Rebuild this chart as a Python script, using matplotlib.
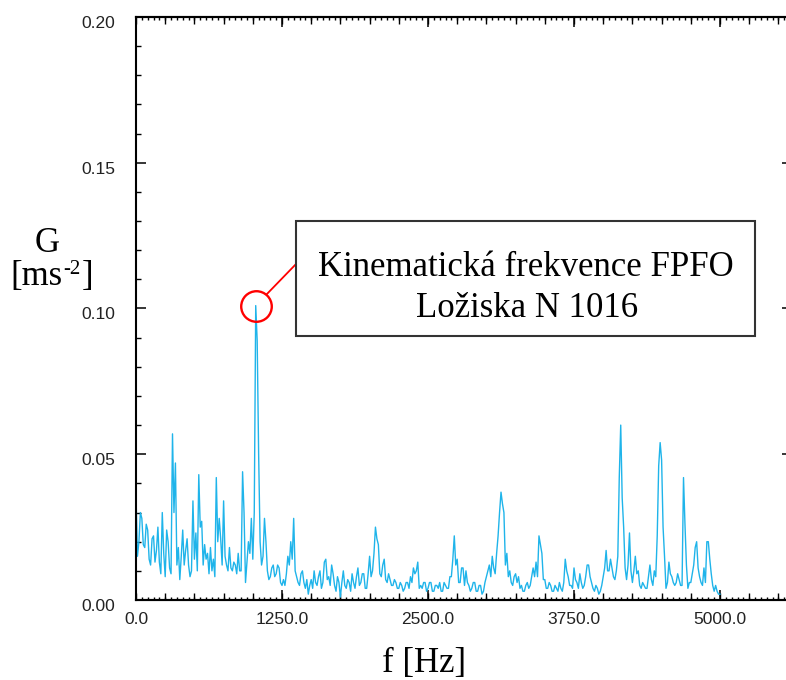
import numpy as np
import matplotlib
matplotlib.use("Agg")
import matplotlib.pyplot as plt
import matplotlib.transforms as mtransforms
from matplotlib.patches import Rectangle
from matplotlib.ticker import MultipleLocator, FormatStrFormatter, NullFormatter

# ---- spectrum data: acceleration G [m/s^2], one bin every 12.5 Hz from 0 Hz ----
df = 12.5
g = [
    0.036, 0.015, 0.020, 0.030, 0.028, 0.019, 0.018, 0.026, 0.024, 0.014,
    0.012, 0.021, 0.022, 0.013, 0.017, 0.025, 0.013, 0.009, 0.030, 0.016,
    0.008, 0.024, 0.020, 0.011, 0.009, 0.057, 0.030, 0.047, 0.012, 0.018,
    0.007, 0.015, 0.024, 0.012, 0.017, 0.021, 0.012, 0.008, 0.010, 0.034,
    0.014, 0.023, 0.010, 0.043, 0.025, 0.027, 0.012, 0.019, 0.014, 0.016,
    0.009, 0.018, 0.010, 0.014, 0.008, 0.042, 0.020, 0.028, 0.021, 0.012,
    0.034, 0.015, 0.012, 0.010, 0.018, 0.011, 0.010, 0.013, 0.012, 0.009,
    0.016, 0.010, 0.010, 0.044, 0.030, 0.006, 0.013, 0.020, 0.016, 0.028,
    0.014, 0.030, 0.101, 0.089, 0.050, 0.020, 0.012, 0.015, 0.028, 0.020,
    0.010, 0.007, 0.008, 0.011, 0.012, 0.008, 0.009, 0.012, 0.011, 0.006,
    0.005, 0.007, 0.005, 0.009, 0.015, 0.012, 0.020, 0.014, 0.028, 0.010,
    0.008, 0.006, 0.005, 0.009, 0.010, 0.006, 0.004, 0.007, 0.002, 0.005,
    0.007, 0.004, 0.010, 0.006, 0.005, 0.008, 0.010, 0.004, 0.006, 0.013,
    0.014, 0.007, 0.008, 0.005, 0.012, 0.009, 0.005, 0.003, 0.008, 0.006,
    0.001, 0.006, 0.010, 0.005, 0.004, 0.007, 0.006, 0.003, 0.009, 0.006,
    0.004, 0.008, 0.011, 0.005, 0.006, 0.009, 0.009, 0.004, 0.004, 0.009,
    0.015, 0.008, 0.010, 0.016, 0.025, 0.021, 0.019, 0.009, 0.008, 0.012,
    0.014, 0.007, 0.006, 0.009, 0.007, 0.005, 0.005, 0.007, 0.006, 0.004,
    0.004, 0.006, 0.005, 0.003, 0.004, 0.006, 0.006, 0.004, 0.008, 0.006,
    0.011, 0.009, 0.010, 0.013, 0.004, 0.005, 0.004, 0.006, 0.006, 0.003,
    0.004, 0.006, 0.006, 0.003, 0.003, 0.005, 0.005, 0.004, 0.006, 0.003,
    0.003, 0.006, 0.005, 0.004, 0.004, 0.008, 0.008, 0.014, 0.022, 0.012,
    0.014, 0.006, 0.006, 0.011, 0.011, 0.005, 0.010, 0.006, 0.005, 0.003,
    0.004, 0.006, 0.006, 0.003, 0.003, 0.005, 0.005, 0.002, 0.003, 0.006,
    0.008, 0.010, 0.012, 0.008, 0.015, 0.011, 0.009, 0.016, 0.022, 0.030,
    0.037, 0.033, 0.030, 0.012, 0.016, 0.008, 0.010, 0.006, 0.005, 0.008,
    0.009, 0.006, 0.008, 0.004, 0.005, 0.003, 0.003, 0.005, 0.006, 0.004,
    0.005, 0.008, 0.011, 0.008, 0.013, 0.008, 0.022, 0.019, 0.016, 0.007,
    0.007, 0.004, 0.004, 0.006, 0.005, 0.003, 0.003, 0.005, 0.004, 0.003,
    0.006, 0.004, 0.003, 0.006, 0.014, 0.010, 0.008, 0.005, 0.005, 0.004,
    0.011, 0.007, 0.006, 0.004, 0.009, 0.006, 0.004, 0.005, 0.008, 0.012,
    0.012, 0.008, 0.006, 0.004, 0.003, 0.005, 0.004, 0.002, 0.003, 0.005,
    0.008, 0.011, 0.017, 0.010, 0.010, 0.014, 0.011, 0.008, 0.007, 0.010,
    0.015, 0.042, 0.060, 0.035, 0.025, 0.011, 0.007, 0.012, 0.023, 0.010,
    0.006, 0.010, 0.015, 0.009, 0.010, 0.005, 0.004, 0.006, 0.005, 0.004,
    0.004, 0.008, 0.012, 0.007, 0.005, 0.010, 0.008, 0.022, 0.046, 0.054,
    0.048, 0.025, 0.015, 0.004, 0.006, 0.013, 0.009, 0.008, 0.006, 0.005,
    0.006, 0.009, 0.007, 0.005, 0.005, 0.042, 0.026, 0.012, 0.004, 0.006,
    0.006, 0.009, 0.012, 0.018, 0.020, 0.011, 0.008, 0.006, 0.005, 0.011,
    0.006, 0.020, 0.020, 0.014, 0.009, 0.005, 0.003, 0.005, 0.003, 0.002,
    0.002,
]
freq = np.arange(len(g)) * df

note_lines = ["Kinematická frekvence FPFO", "Ložiska N 1016"]
x_label = "f [Hz]"
y_label = ["G", "[ms", "-2", "]"]

W, H = 786, 680
serif = "Liberation Serif"
sans = "Liberation Sans"
line_col = "#1fb4ea"

fig = plt.figure(figsize=(W / 100, H / 100), dpi=100)
ax = fig.add_axes([136 / W, 80 / H, 1 - 136 / W, 583 / H])

ax.plot(freq, g, color=line_col, lw=1.0)
ax.set_xlim(0, 5565)
ax.set_ylim(0, 0.2)

for s in ["left", "top", "bottom"]:
    ax.spines[s].set_linewidth(1.5)
ax.spines["right"].set_visible(False)

ax.xaxis.set_major_locator(MultipleLocator(1250))
ax.xaxis.set_minor_locator(MultipleLocator(50))
ax.xaxis.set_major_formatter(FormatStrFormatter("%.1f"))
ax.yaxis.set_major_locator(MultipleLocator(0.05))
ax.yaxis.set_minor_locator(MultipleLocator(0.01))
ax.yaxis.set_major_formatter(FormatStrFormatter("%.2f"))

ax.tick_params(axis="x", which="major", direction="in", length=7, width=1.1,
               top=True, pad=9, labelsize=12.5, labelcolor="#222")
ax.tick_params(axis="x", which="minor", direction="in", length=2.4, width=1.0, top=True)
ax.tick_params(axis="y", which="major", direction="in", length=7, width=1.1,
               right=True, pad=15, labelsize=12.5, labelcolor="#222")
ax.tick_params(axis="y", which="minor", direction="in", length=3.5, width=1.0)
for lab in ax.get_xticklabels() + ax.get_yticklabels():
    lab.set_fontfamily(sans)

# right side: only short major ticks, no spine
for t in ax.yaxis.get_major_ticks():
    t.tick2line.set_markersize(3)

# y tick labels sit a little below their ticks
shift = mtransforms.ScaledTranslation(0, -5 / 100, fig.dpi_scale_trans)
for lab in ax.get_yticklabels():
    lab.set_transform(lab.get_transform() + shift)

# medium ticks every 250 Hz on bottom and top
for side in ["bottom", "top"]:
    sec = ax.secondary_xaxis(side)
    sec.xaxis.set_major_locator(MultipleLocator(250))
    sec.xaxis.set_major_formatter(NullFormatter())
    sec.tick_params(axis="x", which="major", direction="in", length=4.8, width=1.0)
    sec.xaxis.set_minor_locator(MultipleLocator(250))
    sec.tick_params(axis="x", which="minor", length=0)
    sec.spines[side].set_linewidth(1.5)

# peak marker and its note
i_pk = int(np.argmax(g))
ax.plot(freq[i_pk], g[i_pk], "o", ms=22, mfc="none", mec="red", mew=1.7, zorder=5)
ax.annotate("", xy=(freq[i_pk], g[i_pk]), xytext=(297 / W, 1 - 263 / H),
            textcoords="figure fraction",
            arrowprops=dict(arrowstyle="-", color="red", lw=1.3, shrinkA=0, shrinkB=11))

fig.add_artist(Rectangle((296 / W, 1 - 336 / H), 459 / W, 115 / H, transform=fig.transFigure,
                         facecolor="white", edgecolor="#333", lw=1.5))
fig.text(526 / W, 1 - 276 / H, note_lines[0], ha="center", va="baseline",
         fontsize=25, family=serif)
fig.text(527 / W, 1 - 317 / H, note_lines[1], ha="center", va="baseline",
         fontsize=25, family=serif)

# axis titles
fig.text(424 / W, 1 - 672 / H, x_label, ha="center", va="baseline", fontsize=25, family=serif)
fig.text(47 / W, 1 - 252 / H, y_label[0], ha="center", va="baseline", fontsize=25, family=serif)

# unit with a raised "-2", built from three pieces
r = fig.canvas.get_renderer()
base = 1 - 285 / H
t1 = fig.text(10 / W, base, y_label[1], ha="left", va="baseline", fontsize=25, family=serif)
x1 = t1.get_window_extent(r).x1
t2 = fig.text((x1 + 1) / W, base + 11 / H, y_label[2], ha="left", va="baseline",
              fontsize=15, family=serif)
x2 = t2.get_window_extent(r).x1
fig.text((x2 + 1) / W, base, y_label[3], ha="left", va="baseline", fontsize=25, family=serif)

fig.savefig("out.png", dpi=100)
